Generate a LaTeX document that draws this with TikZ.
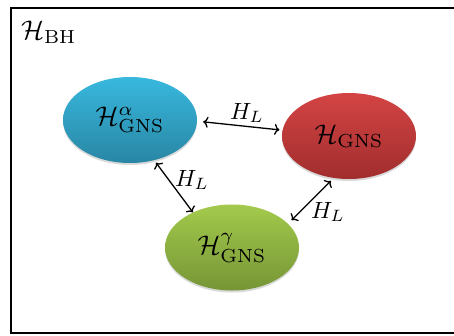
\documentclass[tikz,border=0pt]{standalone}
\usetikzlibrary{shapes.geometric,arrows.meta,shadows}

\definecolor{blueTop}{HTML}{38B8DE}
\definecolor{blueBot}{HTML}{2986A4}
\definecolor{redTop}{HTML}{D44444}
\definecolor{redBot}{HTML}{A12D2D}
\definecolor{greenTop}{HTML}{A3CA4C}
\definecolor{greenBot}{HTML}{769536}

\tikzset{
  space/.style={ellipse, inner sep=0pt, minimum width=134pt, minimum height=86pt,
    drop shadow={shadow xshift=0pt, shadow yshift=-2pt, opacity=0.25, fill=black!60}},
  bigmath/.style={inner sep=0pt},
  tip/.style={To[length=5pt,width=11pt,line width=1.2pt]},
  hop/.style={line width=1.3pt, {To[length=5pt,width=11pt]}-{To[length=5pt,width=11pt]}},
  hoplabel/.style={inner sep=0pt},
  framebox/.style={line width=2.2pt, draw=black}
}

\newcommand{\spacelabel}[1]{\scalebox{2.7}{$#1$}}
\newcommand{\hamlabel}{\scalebox{2.35}{$H_L$}}

\begin{document}
\begin{tikzpicture}[x=1pt, y=-1pt]
  \useasboundingbox (0,0) rectangle (454,335);

  % outer Hilbert space box, running past the right edge
  \draw[framebox] (470,8) -- (11,8) -- (11,333) -- (470,333);
  \node[bigmath, anchor=west] (bh) at (21,32) {\spacelabel{\mathcal{H}_{\mathrm{BH}}}};

  % the three GNS sectors
  \node[space, top color=blueTop, bottom color=blueBot] (alpha) at (130,120)
    {\spacelabel{\mathcal{H}^{\alpha}_{\mathrm{GNS}}}};
  \node[space, top color=redTop, bottom color=redBot] (gns) at (349,136)
    {\spacelabel{\mathcal{H}_{\mathrm{GNS}}}};
  \node[space, top color=greenTop, bottom color=greenBot] (gamma) at (232,247.5)
    {\spacelabel{\mathcal{H}^{\gamma}_{\mathrm{GNS}}}};

  % Hamiltonian links
  \draw[hop, shorten <=6pt, shorten >=3pt] (alpha.-1) -- (gns.175);
  \draw[hop, shorten <=3pt, shorten >=0pt] (alpha.-59) -- (gamma.138);
  \draw[hop, shorten <=4pt, shorten >=5pt] (gns.-110) -- (gamma.23);

  \node[hoplabel] (l1) at (247,113) {\hamlabel};
  \node[hoplabel] (l2) at (192,180) {\hamlabel};
  \node[hoplabel] (l3) at (328,212) {\hamlabel};
\end{tikzpicture}
\end{document}
